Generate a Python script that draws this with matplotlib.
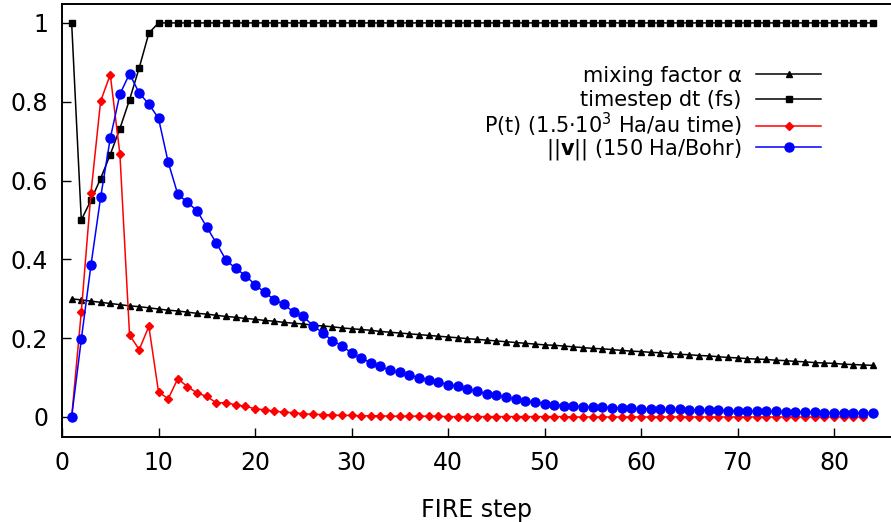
import numpy as np
import matplotlib
matplotlib.use("Agg")
import matplotlib.pyplot as plt
from matplotlib.legend import Legend

plt.rcParams['font.family'] = ['DejaVu Sans']
plt.rcParams['mathtext.fontset'] = 'dejavusans'

steps = np.arange(1, 85)

alpha = [0.300, 0.297, 0.294, 0.291, 0.288, 0.285, 0.282, 0.280, 0.277, 0.274,
         0.271, 0.269, 0.266, 0.263, 0.261, 0.258, 0.255, 0.253, 0.250, 0.248,
         0.245, 0.243, 0.240, 0.238, 0.236, 0.233, 0.231, 0.229, 0.226, 0.224,
         0.222, 0.220, 0.217, 0.215, 0.213, 0.211, 0.209, 0.207, 0.205, 0.203,
         0.201, 0.199, 0.197, 0.195, 0.193, 0.191, 0.189, 0.187, 0.185, 0.183,
         0.182, 0.180, 0.178, 0.176, 0.174, 0.173, 0.171, 0.169, 0.167, 0.166,
         0.164, 0.163, 0.161, 0.159, 0.158, 0.156, 0.155, 0.153, 0.151, 0.150,
         0.148, 0.147, 0.146, 0.144, 0.143, 0.141, 0.140, 0.138, 0.137, 0.136,
         0.134, 0.133, 0.132, 0.131]

dt = [1.0, 0.5, 0.55, 0.605, 0.666, 0.732, 0.805, 0.886, 0.974, 1.0,
      1.0, 1.0, 1.0, 1.0, 1.0, 1.0, 1.0, 1.0, 1.0, 1.0,
      1.0, 1.0, 1.0, 1.0, 1.0, 1.0, 1.0, 1.0, 1.0, 1.0,
      1.0, 1.0, 1.0, 1.0, 1.0, 1.0, 1.0, 1.0, 1.0, 1.0,
      1.0, 1.0, 1.0, 1.0, 1.0, 1.0, 1.0, 1.0, 1.0, 1.0,
      1.0, 1.0, 1.0, 1.0, 1.0, 1.0, 1.0, 1.0, 1.0, 1.0,
      1.0, 1.0, 1.0, 1.0, 1.0, 1.0, 1.0, 1.0, 1.0, 1.0,
      1.0, 1.0, 1.0, 1.0, 1.0, 1.0, 1.0, 1.0, 1.0, 1.0,
      1.0, 1.0, 1.0, 1.0]

power = [0.0, 0.267, 0.568, 0.801, 0.869, 0.667, 0.208, 0.171, 0.230, 0.064,
         0.046, 0.097, 0.077, 0.061, 0.052, 0.036, 0.036, 0.031, 0.027, 0.021,
         0.018, 0.015, 0.012, 0.011, 0.008, 0.007, 0.006, 0.005, 0.004, 0.004,
         0.003, 0.003, 0.003, 0.002, 0.002, 0.002, 0.002, 0.002, 0.002, 0.001,
         0.001, 0.001, 0.001, 0.001, 0.001, 0.001, 0.001, 0.001, 0.001, 0.001,
         0.001, 0.001, 0.0, 0.0, 0.0, 0.0, 0.0, 0.0, 0.0, 0.0,
         0.0, 0.0, 0.0, 0.0, 0.0, 0.0, 0.0, 0.0, 0.0, 0.0,
         0.0, 0.0, 0.0, 0.0, 0.0, 0.0, 0.0, 0.0, 0.0, 0.0,
         0.0, 0.0, 0.0]

vnorm = [0.0, 0.197, 0.385, 0.557, 0.707, 0.819, 0.871, 0.822, 0.794, 0.758,
         0.647, 0.565, 0.545, 0.523, 0.482, 0.441, 0.398, 0.377, 0.359, 0.336,
         0.316, 0.298, 0.286, 0.266, 0.255, 0.232, 0.214, 0.194, 0.181, 0.162,
         0.149, 0.138, 0.129, 0.118, 0.113, 0.106, 0.100, 0.094, 0.089, 0.082,
         0.078, 0.071, 0.065, 0.059, 0.055, 0.050, 0.045, 0.041, 0.037, 0.034,
         0.031, 0.029, 0.028, 0.026, 0.025, 0.025, 0.024, 0.023, 0.022, 0.021,
         0.021, 0.020, 0.019, 0.019, 0.018, 0.018, 0.017, 0.017, 0.016, 0.016,
         0.015, 0.015, 0.014, 0.014, 0.013, 0.013, 0.012, 0.012, 0.011, 0.011,
         0.011, 0.010, 0.010, 0.009]

fig = plt.figure(figsize=(8.91, 5.22), dpi=100)
ax = fig.add_axes([62/891, 85/522, 1 - 62/891, (437 - 4)/522])

lines = []
lines += ax.plot(steps, alpha, color='black', lw=1.1, marker='^', ms=5,
                 label='mixing factor \u03b1')
lines += ax.plot(steps, dt, color='black', lw=1.1, marker='s', ms=4.2,
                 label='timestep dt (fs)')
lines += ax.plot(steps[:len(power)], power, color='#ff0000', lw=1.1, marker='D',
                 ms=4.2, label='P(t) (1.5\u00b710$^3$ Ha/au time)')
lines += ax.plot(steps, vnorm, color='#0000ff', lw=1.1, marker='o', ms=6.5,
                 label='||$\\mathbf{v}$|| (150 Ha/Bohr)')

ax.set_xlim(0, (891 - 62) / 9.65)
ax.set_ylim(-0.0508, 1.048)
ax.set_xticks([0, 10, 20, 30, 40, 50, 60, 70, 80])
ax.set_yticks([0, 0.2, 0.4, 0.6, 0.8, 1])
ax.set_yticklabels(['0', '0.2', '0.4', '0.6', '0.8', '1'])
ax.tick_params(direction='in', length=6.5, width=1, labelsize=17, pad=10)
ax.spines['right'].set_visible(False)
for s in ['left', 'bottom', 'top']:
    ax.spines[s].set_linewidth(1.4)

ax.set_xlabel('FIRE step', fontsize=17, labelpad=16.5)

# one key entry per row, so the rows are evenly spaced like the gnuplot key
row_y = [75.5, 100.5, 125, 149.5]
for ln, y in zip(lines, row_y):
    leg = Legend(ax, [ln], [ln.get_label()], loc='center right',
                 bbox_to_anchor=(821/891, 1 - y/522),
                 bbox_transform=fig.transFigure, frameon=False,
                 markerfirst=False, fontsize=15, handlelength=3.1,
                 handletextpad=0.7, borderpad=0, borderaxespad=0)
    ax.add_artist(leg)

fig.savefig('out.png', dpi=100)
